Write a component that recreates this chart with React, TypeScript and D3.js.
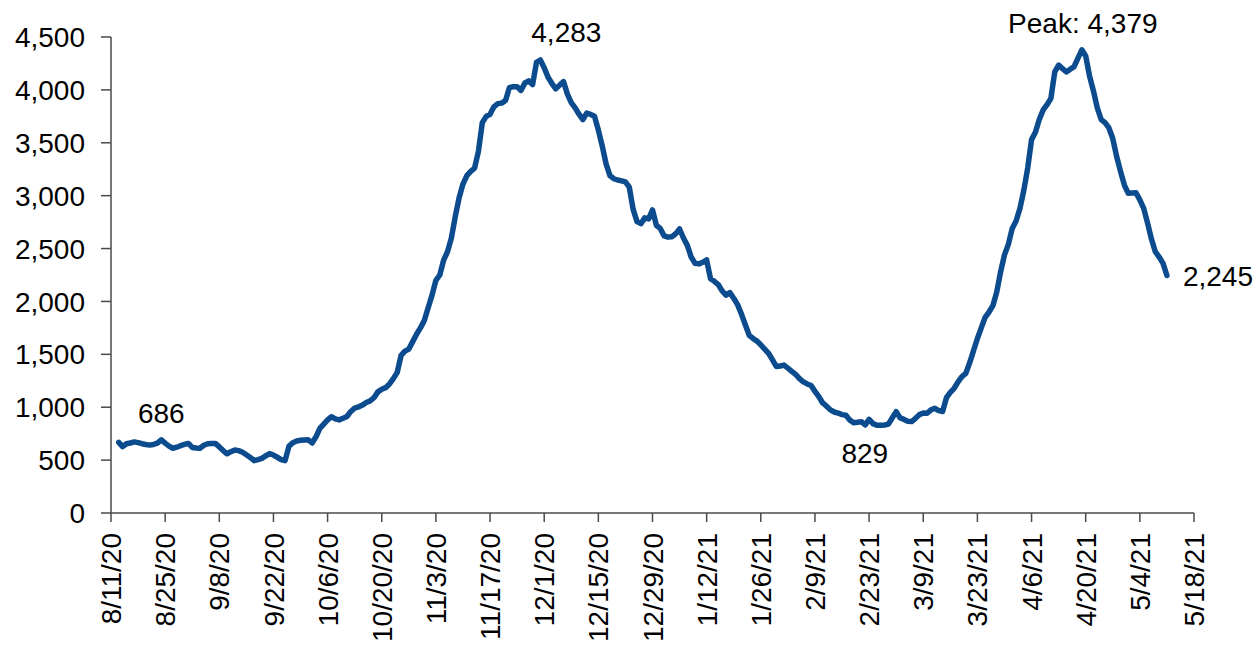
import React from 'react';
import { scaleLinear, scaleTime, timeParse, timeDay, line, format } from 'd3';

const width = 1258;
const height = 645;

const parseDate = timeParse('%m/%d/%y');

const firstDay = '8/13/20';

// daily census, one value per day starting at firstDay
const census = [
  668, 627, 655, 662, 672, 665, 655, 648, 642, 648,
  660, 692, 660, 632, 612, 622, 636, 648, 658, 620,
  614, 612, 640, 655, 657, 658, 625, 590, 560, 580,
  596, 590, 575, 550, 525, 495, 505, 517, 540, 562,
  548, 527, 505, 495, 630, 665, 681, 688, 690, 692,
  662, 720, 800, 840, 880, 910, 890, 880, 895, 912,
  960, 992, 1003, 1020, 1045, 1060, 1090, 1145, 1170, 1185,
  1220, 1270, 1330, 1490, 1530, 1550, 1620, 1690, 1750, 1820,
  1940, 2060, 2200, 2250, 2390, 2470, 2600, 2800, 2980, 3110,
  3190, 3230, 3260, 3420, 3690, 3750, 3770, 3840, 3870, 3875,
  3900, 4020, 4030, 4030, 3995, 4065, 4085, 4050, 4260, 4283,
  4210, 4120, 4060, 4010, 4045, 4078, 3960, 3880, 3830, 3770,
  3720, 3780, 3768, 3750, 3620, 3470, 3300, 3190, 3160, 3148,
  3140, 3130, 3080, 2870, 2755, 2735, 2790, 2780, 2865, 2720,
  2690, 2620, 2608, 2612, 2640, 2685, 2600, 2530, 2420, 2360,
  2355, 2370, 2392, 2215, 2190, 2160, 2100, 2060, 2083, 2030,
  1970, 1880, 1780, 1680, 1650, 1625, 1590, 1550, 1510, 1450,
  1385, 1390, 1398, 1370, 1340, 1310, 1270, 1240, 1220, 1205,
  1150, 1100, 1040, 1010, 975, 955, 945, 930, 925, 880,
  854, 858, 863, 832, 886, 845, 829, 830, 832, 840,
  900, 958, 900, 885, 868, 865, 895, 930, 945, 943,
  975, 990, 968, 960, 1090, 1140, 1179, 1240, 1289, 1320,
  1420, 1535, 1650, 1750, 1850, 1900, 1960, 2090, 2280, 2440,
  2540, 2690, 2760, 2880, 3050, 3260, 3530, 3600, 3720, 3810,
  3860, 3920, 4170, 4235, 4200, 4170, 4195, 4220, 4300, 4379,
  4320, 4130, 3990, 3830, 3720, 3690, 3640, 3540, 3370, 3230,
  3100, 3022, 3025, 3028, 2960, 2880, 2740, 2590, 2470, 2420,
  2360, 2245,
];

const xTickLabels = [
  '8/11/20', '8/25/20', '9/8/20', '9/22/20', '10/6/20', '10/20/20', '11/3/20',
  '11/17/20', '12/1/20', '12/15/20', '12/29/20', '1/12/21', '1/26/21', '2/9/21',
  '2/23/21', '3/9/21', '3/23/21', '4/6/21', '4/20/21', '5/4/21', '5/18/21',
];

const yTicks = [0, 500, 1000, 1500, 2000, 2500, 3000, 3500, 4000, 4500];

const noteLabels = ['686', '4,283', '829', 'Peak: 4,379', '2,245'];
const noteDates = ['8/24/20', '11/30/20', '2/25/21', '4/19/21', '5/11/21'];

const lineColor = '#0b4b8e';
const axisColor = '#4a4a4a';
const font = '"Liberation Sans", Arial, sans-serif';

const App = () => {
  const start = parseDate(firstDay);
  const series = census.map((v, i) => ({ date: timeDay.offset(start, i), value: v }));

  const xScale = scaleTime()
    .domain([parseDate(xTickLabels[0]), parseDate(xTickLabels[xTickLabels.length - 1])])
    .range([111, 1194]);

  const yScale = scaleLinear()
    .domain([0, 4500])
    .range([513, 37]);

  const path = line()
    .x(d => xScale(d.date))
    .y(d => yScale(d.value))(series);

  const fmt = format(',');
  const [x0, x1] = xScale.range();
  const [y0, y1] = yScale.range();

  // label placement relative to its point: [dx, dy, anchor]
  const notePlace = [
    [0, -17, 'middle'],
    [26, -18, 'middle'],
    [-12, 38, 'middle'],
    [1, -17, 'middle'],
    [16, 10, 'start'],
  ];

  return (
    <svg width={width} height={height} style={{ position: 'absolute', left: 0, top: 0, background: '#fff' }}
      fontFamily={font}>
      <line x1={x0} x2={x0} y1={y1} y2={y0} stroke={axisColor} strokeWidth={1.5} />
      <line x1={x0} x2={x1} y1={y0} y2={y0} stroke={axisColor} strokeWidth={1.5} />
      {yTicks.map(t => (
        <g key={t} transform={`translate(0, ${yScale(t)})`}>
          <line x1={x0 - 10} x2={x0} stroke={axisColor} strokeWidth={1.5} />
          <text x={x0 - 26} dy="0.36em" textAnchor="end" fontSize={28} fill="#000">{fmt(t)}</text>
        </g>
      ))}
      {xTickLabels.map(t => (
        <g key={t} transform={`translate(${xScale(parseDate(t))}, ${y0})`}>
          <line y2={9} stroke={axisColor} strokeWidth={1.5} />
          <text transform="translate(0, 20) rotate(-90)" dy="0.36em" textAnchor="end" fontSize={28} fill="#000">{t}</text>
        </g>
      ))}
      <path d={path} fill="none" stroke={lineColor} strokeWidth={5.5} strokeLinejoin="round" strokeLinecap="round" />
      {noteLabels.map((label, i) => {
        const d = parseDate(noteDates[i]);
        const v = series[timeDay.count(start, d)].value;
        const [dx, dy, anchor] = notePlace[i];
        return (
          <text key={label} x={xScale(d) + dx} y={yScale(v) + dy} textAnchor={anchor} fontSize={28} fill="#000">
            {label}
          </text>
        );
      })}
    </svg>
  );
};

export default App;
